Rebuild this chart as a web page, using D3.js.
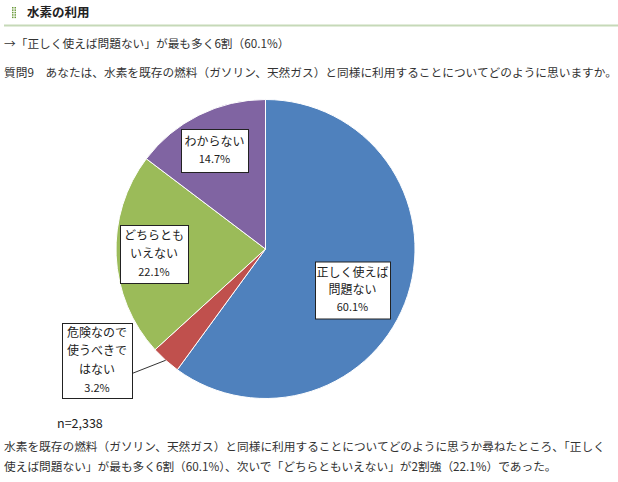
<!DOCTYPE html>
<html><head><meta charset="utf-8">
<script src="https://cdn.jsdelivr.net/npm/d3@7/dist/d3.min.js"></script>
<style>
html,body{margin:0;padding:0;background:#fff;}
svg{display:block;font-family:"Noto Sans CJK JP","Noto Sans",sans-serif;}
</style></head>
<body>
<script>
const categories = ["正しく使えば問題ない", "危険なので使うべきではない", "どちらともいえない", "わからない"];
const values = [60.1, 3.2, 22.1, 14.7];
const labelLines = [["正しく使えば", "問題ない"], ["危険なので", "使うべきで", "はない"], ["どちらとも", "いえない"], ["わからない"]];
const colors = ["#4F81BD", "#C0504D", "#9BBB59", "#8064A2"];
const title = "水素の利用";
const summary = "→「正しく使えば問題ない」が最も多く6割（60.1%）";
const question = "質問9　あなたは、水素を既存の燃料（ガソリン、天然ガス）と同様に利用することについてどのように思いますか。";
const nText = "n=2,338";
const bodyLines = ["水素を既存の燃料（ガソリン、天然ガス）と同様に利用することについてどのように思うか尋ねたところ、「正しく",
  "使えば問題ない」が最も多く6割（60.1%）、次いで「どちらともいえない」が2割強（22.1%）であった。"];

const W = 618, H = 482;
const svg = d3.select("body").append("svg").attr("width", W).attr("height", H);

// header
const icon = svg.append("g");
for (let i = 0; i < 5; i++) {
  icon.append("rect").attr("x", 12).attr("y", 7 + i * 2.4).attr("width", 1.5).attr("height", 1.5).attr("fill", "#6a9a3a");
  icon.append("rect").attr("x", 14.5).attr("y", 7 + i * 2.4).attr("width", 1.5).attr("height", 1.5).attr("fill", "#6a9a3a");
}
svg.append("text").attr("x", 27).attr("y", 17).attr("font-size", 12.5).attr("font-weight", "bold").attr("fill", "#222").text(title);
svg.append("line").attr("x1", 4).attr("x2", W).attr("y1", 25.5).attr("y2", 25.5).attr("stroke", "#c6d9b8").attr("stroke-width", 2);

const fs = 11.7;
svg.append("text").attr("x", 4).attr("y", 48).attr("font-size", fs).attr("fill", "#333").text(summary);
svg.append("text").attr("x", 4).attr("y", 77).attr("font-size", fs).attr("fill", "#333").text(question);

// pie
const cx = 265.5, cy = 249, R = 149.5;
const g = svg.append("g").attr("transform", `translate(${cx},${cy})`);
const pie = d3.pie().sort(null).value(d => d)(values);
const arc = d3.arc().innerRadius(0).outerRadius(R);
g.selectAll("path.slice").data(pie).enter().append("path").attr("class", "slice")
  .attr("d", arc).attr("fill", (d, i) => colors[i]).attr("stroke", "#fff").attr("stroke-width", 1);

// label layout (offsets from centre, box sizes)
const boxLayout = [
  {dx: 87, dy: 41, w: 75, h: 57, lh: 17},
  {dx: -168.5, dy: 111.5, w: 70, h: 75, lh: 18.5},
  {dx: -111.5, dy: 5, w: 68, h: 58, lh: 18},
  {dx: -51, dy: -98.5, w: 67, h: 43, lh: 18}
];

// leader line for small slice
{
  const b = boxLayout[1];
  const a = pie[1];
  const mid = (a.startAngle + a.endAngle) / 2;
  const p = [Math.sin(mid) * R, -Math.cos(mid) * R];
  g.append("line").attr("x1", b.dx + b.w / 2).attr("y1", b.dy + 13)
    .attr("x2", p[0]).attr("y2", p[1]).attr("stroke", "#333").attr("stroke-width", 1);
}

pie.forEach((d, i) => {
  const b = boxLayout[i];
  const lg = g.append("g").attr("transform", `translate(${b.dx},${b.dy})`);
  lg.append("rect").attr("x", -b.w / 2 + 0.5).attr("y", -b.h / 2 + 0.5).attr("width", b.w).attr("height", b.h)
    .attr("fill", "#fff").attr("stroke", "#222").attr("stroke-width", 1);
  const lines = labelLines[i].concat([values[i].toFixed(1) + "%"]);
  const n = lines.length;
  lines.forEach((t, j) => {
    lg.append("text").attr("x", 0).attr("y", (j - (n - 1) / 2) * b.lh).attr("dy", "0.35em")
      .attr("text-anchor", "middle").attr("font-size", j === n - 1 ? 11 : 12)
      .attr("fill", "#222").text(t);
  });
});

svg.append("text").attr("x", 57).attr("y", 428).attr("font-size", 12.5).attr("fill", "#222").text(nText);
bodyLines.forEach((t, i) => {
  svg.append("text").attr("x", 4).attr("y", 451 + i * 20).attr("font-size", fs).attr("fill", "#333").text(t);
});
</script>
</body></html>
